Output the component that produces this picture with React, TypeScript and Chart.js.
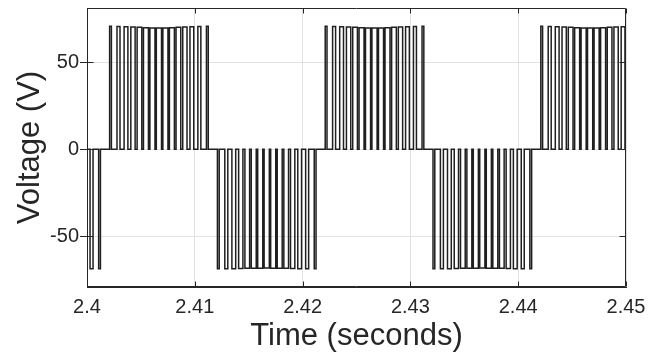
import { useEffect, useRef } from "react";
import { Chart, registerables } from "chart.js";

Chart.register(...registerables);

const xTickValues = [2.4, 2.41, 2.42, 2.43, 2.44, 2.45];
const xTickLabels = ["2.4", "2.41", "2.42", "2.43", "2.44", "2.45"];
const yTickValues = [-50, 0, 50];
const yTickLabels = ["-50", "0", "50"];

// start time (s) of each half-cycle of the inverter output, and its polarity
const halfCycleStart = [2.39195, 2.40195, 2.41195, 2.42195, 2.43195, 2.44195];
const halfCycleSign = [-1, 1, -1, 1, -1, 1];

// switching instants of the pulses inside one half-cycle (ms after its start)
const pulseOnMs = [0.148, 0.833, 1.491, 2.116, 2.699, 3.288, 3.884, 4.481, 5.088, 5.695, 6.31, 6.931, 7.602, 8.333, 9.13];
const pulseOffMs = [0.314, 1.111, 1.843, 2.514, 3.135, 3.75, 4.356, 4.963, 5.56, 6.157, 6.746, 7.329, 7.954, 8.611, 9.296];

// pulse amplitude (V) for the positive and negative half-cycles
const positivePulseV = [70.5, 70.4, 70.3, 70.1, 69.9, 69.7, 69.6, 69.5, 69.6, 69.7, 69.9, 70.1, 70.3, 70.4, 70.5];
const negativePulseV = [-68.6, -68.6, -68.5, -68.4, -68.3, -68.2, -68.2, -68.1, -68.2, -68.2, -68.3, -68.4, -68.5, -68.6, -68.6];

const TEXT = "#262626";
const FONT = "'Liberation Sans', Arial, Helvetica, sans-serif";

function buildWaveform() {
  const pts: { x: number; y: number }[] = [{ x: 2.39, y: 0 }];
  halfCycleStart.forEach((t0, h) => {
    const levels = halfCycleSign[h] > 0 ? positivePulseV : negativePulseV;
    pulseOnMs.forEach((on, i) => {
      const tOn = t0 + on / 1000;
      const tOff = t0 + pulseOffMs[i] / 1000;
      pts.push({ x: tOn, y: 0 }, { x: tOn, y: levels[i] }, { x: tOff, y: levels[i] }, { x: tOff, y: 0 });
    });
  });
  pts.push({ x: 2.46, y: 0 });
  return pts;
}

// axes box with inward tick marks on all four sides
const framePlugin = {
  id: "frame",
  afterDraw(chart: any) {
    const { ctx, chartArea: a, scales } = chart;
    const L = Math.round(a.left) + 0.5;
    const R = Math.round(a.right) - 0.5;
    const T = Math.round(a.top) + 0.5;
    const B = Math.round(a.bottom) - 0.5;
    ctx.save();
    ctx.strokeStyle = TEXT;
    ctx.lineWidth = 1;
    ctx.beginPath();
    for (const v of xTickValues) {
      const px = Math.round(scales.x.getPixelForValue(v)) + 0.5;
      ctx.moveTo(px, B);
      ctx.lineTo(px, B - 5);
      ctx.moveTo(px, T);
      ctx.lineTo(px, T + 5);
    }
    for (const v of yTickValues) {
      const py = Math.round(scales.y.getPixelForValue(v)) + 0.5;
      ctx.moveTo(L, py);
      ctx.lineTo(L + 6, py);
      ctx.moveTo(R, py);
      ctx.lineTo(R - 6, py);
    }
    ctx.rect(L, T, R - L, B - T);
    ctx.stroke();
    ctx.restore();
  },
};

export default function App() {
  const canvasRef = useRef<HTMLCanvasElement | null>(null);

  useEffect(() => {
    const canvas = canvasRef.current;
    if (!canvas) return;
    const chart = new Chart(canvas, {
      type: "line",
      data: {
        datasets: [
          {
            data: buildWaveform(),
            borderColor: "#1f1f1f",
            borderWidth: 1.5,
            pointRadius: 0,
            tension: 0,
            fill: false,
          },
        ],
      },
      options: {
        responsive: false,
        animation: false,
        events: [],
        layout: { padding: { left: 0, right: 36, top: 8, bottom: 0 } },
        plugins: { legend: { display: false }, tooltip: { enabled: false } },
        scales: {
          x: {
            type: "linear",
            min: 2.4,
            max: 2.45,
            afterBuildTicks: (scale: any) => {
              scale.ticks = xTickValues.map((v) => ({ value: v }));
            },
            afterFit: (scale: any) => {
              scale.height = 71;
              scale.paddingLeft = 0;
              scale.paddingRight = 0;
            },
            ticks: {
              color: TEXT,
              font: { family: FONT, size: 20 },
              padding: 8,
              maxRotation: 0,
              callback: (v: any) => {
                const i = xTickValues.findIndex((t) => Math.abs(t - Number(v)) < 1e-9);
                return i >= 0 ? xTickLabels[i] : "";
              },
            },
            grid: { color: "#e2e2e2", lineWidth: 1, drawTicks: false },
            border: { display: true, color: TEXT },
            title: {
              display: true,
              text: "Time (seconds)",
              color: TEXT,
              font: { family: FONT, size: 31 },
              padding: { top: 0, bottom: 3 },
            },
          },
          y: {
            type: "linear",
            min: -79,
            max: 81,
            afterBuildTicks: (scale: any) => {
              scale.ticks = yTickValues.map((v) => ({ value: v }));
            },
            afterFit: (scale: any) => {
              scale.width = 87;
              scale.paddingTop = 0;
              scale.paddingBottom = 0;
            },
            ticks: {
              color: TEXT,
              font: { family: FONT, size: 20 },
              padding: 1,
              callback: (v: any) => {
                const i = yTickValues.indexOf(Number(v));
                return i >= 0 ? yTickLabels[i] : "";
              },
            },
            grid: { color: "#e2e2e2", lineWidth: 1, drawTicks: true, tickLength: 7, tickColor: TEXT },
            border: { display: true, color: TEXT },
            title: {
              display: true,
              text: "Voltage (V)",
              color: TEXT,
              font: { family: FONT, size: 31 },
              padding: { top: 12, bottom: 0 },
            },
          },
        },
      },
      plugins: [framePlugin],
    });
    return () => chart.destroy();
  }, []);

  return (
    <div style={{ position: "fixed", left: 0, top: 0, width: 662, height: 358, background: "#fff" }}>
      <canvas ref={canvasRef} width={662} height={358} style={{ display: "block" }} />
    </div>
  );
}
